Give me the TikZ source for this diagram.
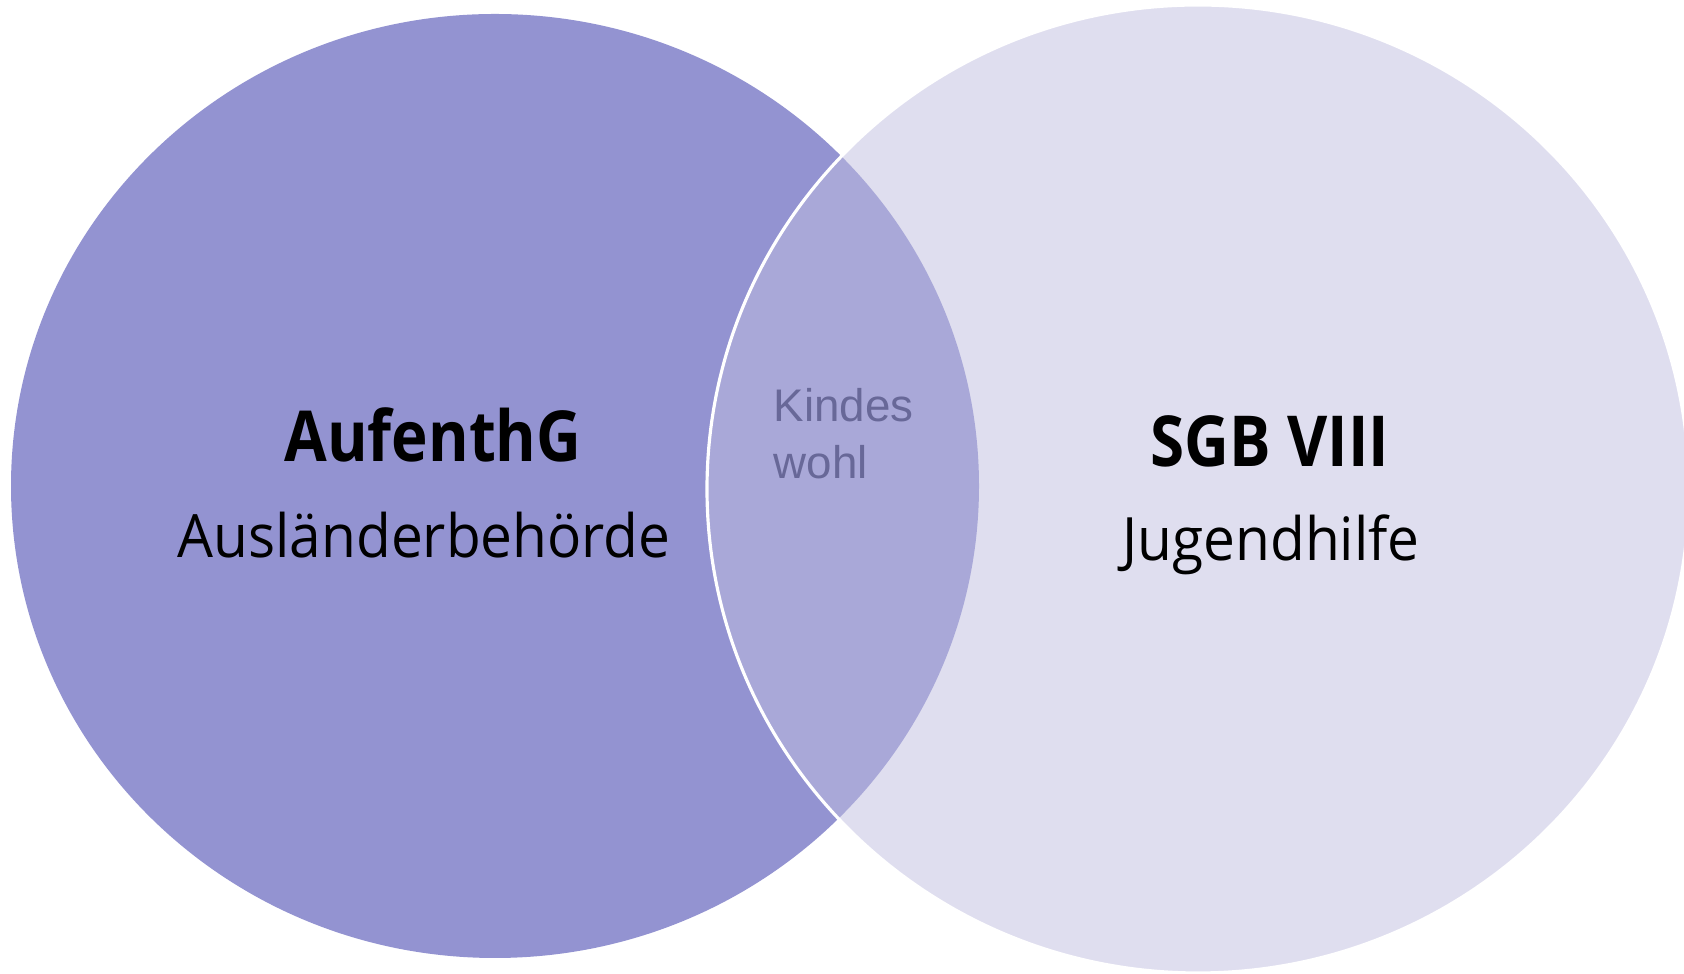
\documentclass[tikz,border=0pt]{standalone}
\usepackage{fontspec}
\setmainfont{Open Sans}[FakeStretch=0.95]
\newfontfamily\headfont{Open Sans}[FakeStretch=0.88]
\newfontfamily\arialfont{Liberation Sans}

\definecolor{aufenth}{RGB}{147,147,209}
\definecolor{sgb}{RGB}{191,189,223}
\definecolor{kindes}{RGB}{104,104,152}

\begin{document}
\begin{tikzpicture}[x=0.01cm, y=-0.01cm]
    \useasboundingbox (0, 0) rectangle (1684, 974);
    \clip (0, 0) rectangle (1684, 974);

    % the two circles, the right one half transparent over the left one
    \fill[aufenth] (495, 486) ellipse [x radius=484, y radius=472];
    \filldraw[fill=sgb, fill opacity=0.5, draw=white, line width=0.9pt] (1198, 489) ellipse [x radius=491, y radius=484];

    \node[anchor=base, font=\headfont\bfseries\fontsize{20}{24}\selectfont] (aufenthg) at (433, 462) {AufenthG};
    \node[anchor=base, font=\fontsize{17}{20}\selectfont] (abh) at (424, 558) {Ausländerbehörde};

    \node[anchor=base, font=\headfont\bfseries\fontsize{20}{24}\selectfont] (sgb8) at (1270, 467) {SGB VIII};
    \node[anchor=base, font=\fontsize{17}{20}\selectfont] (juhi) at (1271, 561) {Jugendhilfe};

    \node[anchor=base west, inner sep=0pt, text=kindes, font=\arialfont\fontsize{13}{16}\selectfont] (kindes) at (773, 422) {Kindes};
    \node[anchor=base west, inner sep=0pt, text=kindes, font=\arialfont\fontsize{13}{16}\selectfont] (wohl) at (773, 479) {wohl};
\end{tikzpicture}
\end{document}
